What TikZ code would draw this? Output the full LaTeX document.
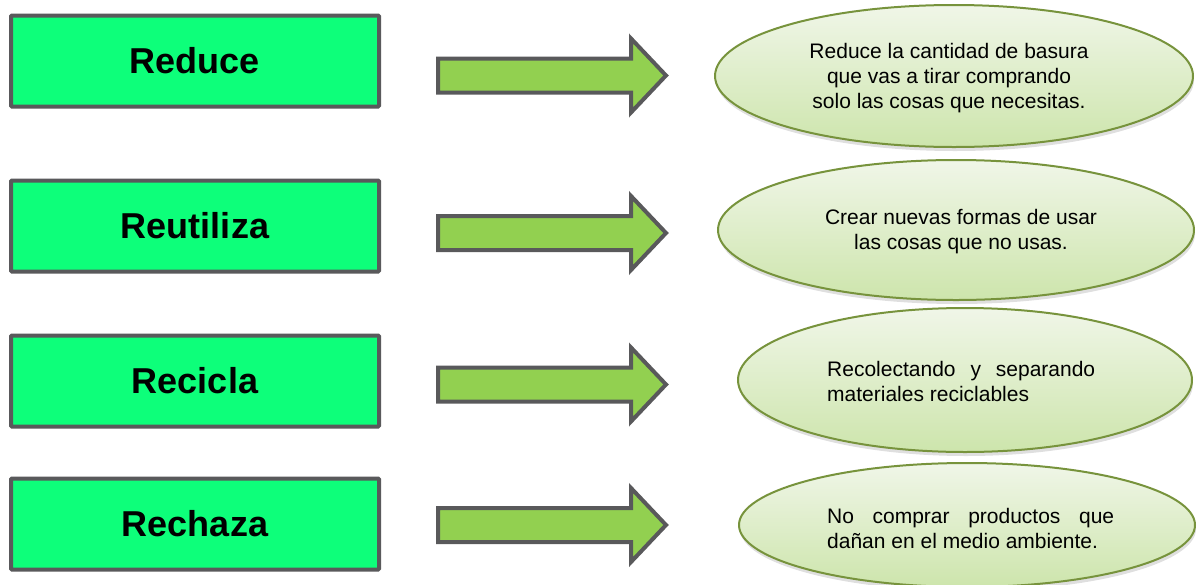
\documentclass[tikz,border=0pt]{standalone}
\usepackage{fontspec}
\setmainfont{Liberation Sans}
\usetikzlibrary{shapes.geometric,shadows}
\definecolor{boxgreen}{RGB}{13,255,122}
\definecolor{edgegray}{RGB}{89,89,91}
\definecolor{arrowgreen}{RGB}{146,208,80}
\definecolor{elledge}{RGB}{119,147,60}
\definecolor{elltop}{RGB}{240,246,232}
\definecolor{ellbot}{RGB}{205,229,172}
\tikzset{
  termbox/.style={draw=edgegray, line width=4pt, fill=boxgreen, rounded corners=1pt,
    minimum width=368pt, minimum height=91pt, inner sep=0pt,
    font=\fontsize{36}{40}\selectfont\bfseries},
  blockarrow/.style={draw=edgegray, line width=4pt, fill=arrowgreen, line join=miter},
  bubble/.style={ellipse, draw=elledge, line width=2pt, top color=elltop, bottom color=ellbot,
    inner sep=0pt, drop shadow={opacity=0.25, shadow xshift=1pt, shadow yshift=-4pt}},
  bubbletext/.style={font=\fontsize{21}{25}\selectfont, inner sep=0pt}
}
\begin{document}
\begin{tikzpicture}[x=1pt,y=-1pt]
\useasboundingbox (0,0) rectangle (1199,584);
% boxes
\node[termbox] (b1) at (195,61) {Reduce};
\node[termbox] (b2) at (195,226) {Reutiliza};
\node[termbox] (b3) at (195,381) {Recicla};
\node[termbox] (b4) at (195,524) {Rechaza};
% arrows
\foreach \c/\n in {75.5/a1,233/a2,384.5/a3,525/a4}{
  \draw[blockarrow] (438,\c-17) -- (631,\c-17) -- (631,\c-37) -- (666,\c)
     -- (631,\c+37) -- (631,\c+17) -- (438,\c+17) -- cycle;
}
% ellipses
\node[bubble, minimum width=478pt, minimum height=142pt] (e1) at (954,76) {};
\node[bubble, minimum width=476pt, minimum height=140pt] (e2) at (956,230) {};
\node[bubble, minimum width=454pt, minimum height=144pt] (e3) at (965,380) {};
\node[bubble, minimum width=456pt, minimum height=124pt] (e4) at (967,525) {};
% texts
\node[bubbletext, align=center] (t1) at (949,78) {Reduce la cantidad de basura\\que vas a tirar comprando\\solo las cosas que necesitas.};
\node[bubbletext, align=center] (t2) at (961,232) {Crear nuevas formas de usar\\las cosas que no usas.};
\node[bubbletext, align=left, anchor=west] (t3) at (827,381) {\makebox[268pt][s]{Recolectando y separando}\\materiales reciclables};
\node[bubbletext, align=left, anchor=west] (t4) at (827,528) {\makebox[287pt][s]{No comprar productos que}\\dañan en el medio ambiente.};
\end{tikzpicture}
\end{document}
